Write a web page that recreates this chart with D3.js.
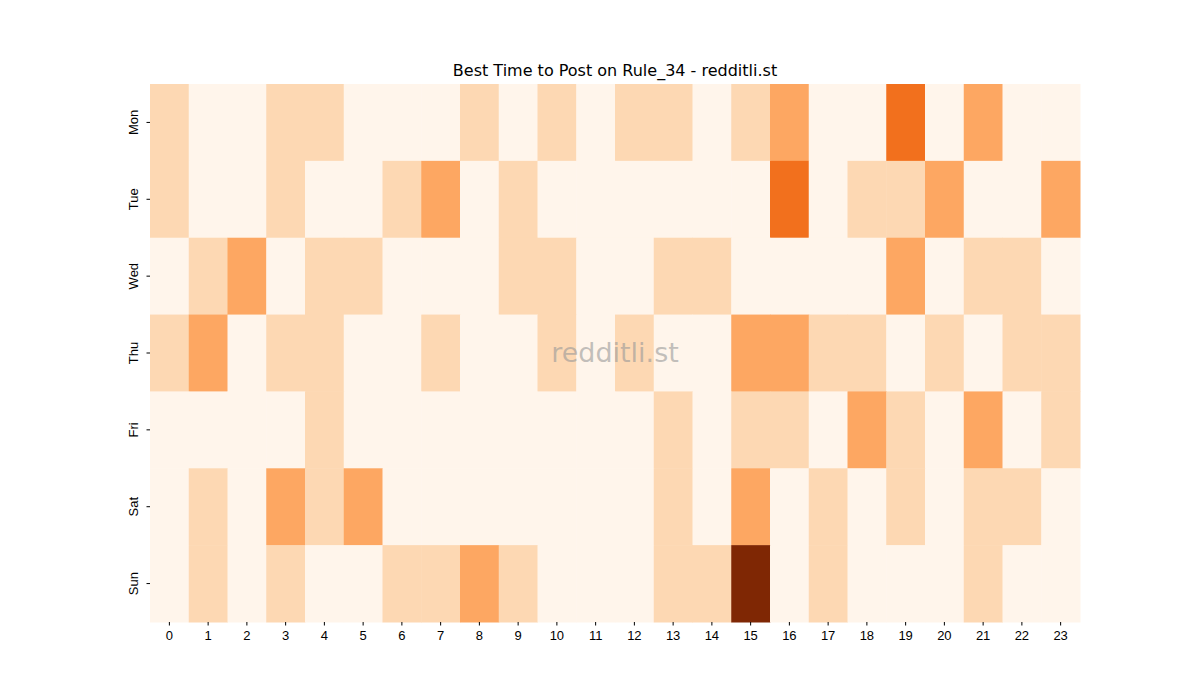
<!DOCTYPE html>
<html><head><meta charset="utf-8">
<script src="https://cdn.jsdelivr.net/npm/d3@7"></script>
<style>body{margin:0;background:#fff}svg{font-family:"DejaVu Sans",sans-serif}</style>
</head><body>
<script>
const days = ["Mon","Tue","Wed","Thu","Fri","Sat","Sun"];
const hours = d3.range(24).map(String);
const mon = [1,0,0,1,1,0,0,0,1,0,1,0,1,1,0,1,2,0,0,3,0,2,0,0];
const tue = [1,0,0,1,0,0,1,2,0,1,0,0,0,0,0,0,3,0,1,1,2,0,0,2];
const wed = [0,1,2,0,1,1,0,0,0,1,1,0,0,1,1,0,0,0,0,2,0,1,1,0];
const thu = [1,2,0,1,1,0,0,1,0,0,1,0,1,0,0,2,2,1,1,0,1,0,1,1];
const fri = [0,0,0,0,1,0,0,0,0,0,0,0,0,1,0,1,1,0,2,1,0,2,0,1];
const sat = [0,1,0,2,1,2,0,0,0,0,0,0,0,1,0,2,0,1,0,1,0,1,1,0];
const sun = [0,1,0,1,0,0,1,1,2,1,0,0,0,1,1,5,0,1,0,0,0,1,0,0];
const rows = [mon,tue,wed,thu,fri,sat,sun];

const cells = [];
rows.forEach((r,i)=>r.forEach((v,j)=>cells.push({day:days[i],hour:hours[j],v})));

const margin = {top:84,left:150,right:120,bottom:78};
const width = 1200, height = 700;
const svg = d3.select("body").append("svg").attr("width",width).attr("height",height);

const x = d3.scaleBand().domain(hours).range([margin.left,width-margin.right]);
const y = d3.scaleBand().domain(days).range([margin.top,height-margin.bottom]);
const color = d3.scaleSequential(d3.interpolateOranges).domain([0,5]);

svg.append("g").selectAll("rect").data(cells).join("rect")
    .attr("x",d=>x(d.hour)).attr("y",d=>y(d.day))
    .attr("width",x.bandwidth()+0.5).attr("height",y.bandwidth()+0.5)
    .attr("fill",d=>color(d.v));

svg.append("g")
    .attr("transform",`translate(0,${height-margin.bottom})`)
    .call(d3.axisBottom(x).tickSize(3.5).tickPadding(5))
    .call(g=>g.select(".domain").remove())
    .call(g=>g.selectAll("text").attr("font-size",13).attr("fill","#000"));

svg.append("g")
    .attr("transform",`translate(${margin.left},0)`)
    .call(d3.axisLeft(y).tickSize(3.5).tickPadding(5))
    .call(g=>g.select(".domain").remove())
    .call(g=>g.selectAll("text").attr("font-size",13).attr("fill","#000")
        .attr("text-anchor","middle").attr("dy",0)
        .attr("transform","rotate(-90) translate(0,-12)").attr("x",0).attr("y",0));

svg.append("text").attr("x",615).attr("y",76).attr("text-anchor","middle")
    .attr("font-size",16).text("Best Time to Post on Rule_34 - redditli.st");

svg.append("text").attr("x",615).attr("y",362).attr("text-anchor","middle")
    .attr("font-size",27).attr("fill","#999").attr("fill-opacity",0.6).text("redditli.st");
</script>
</body></html>
